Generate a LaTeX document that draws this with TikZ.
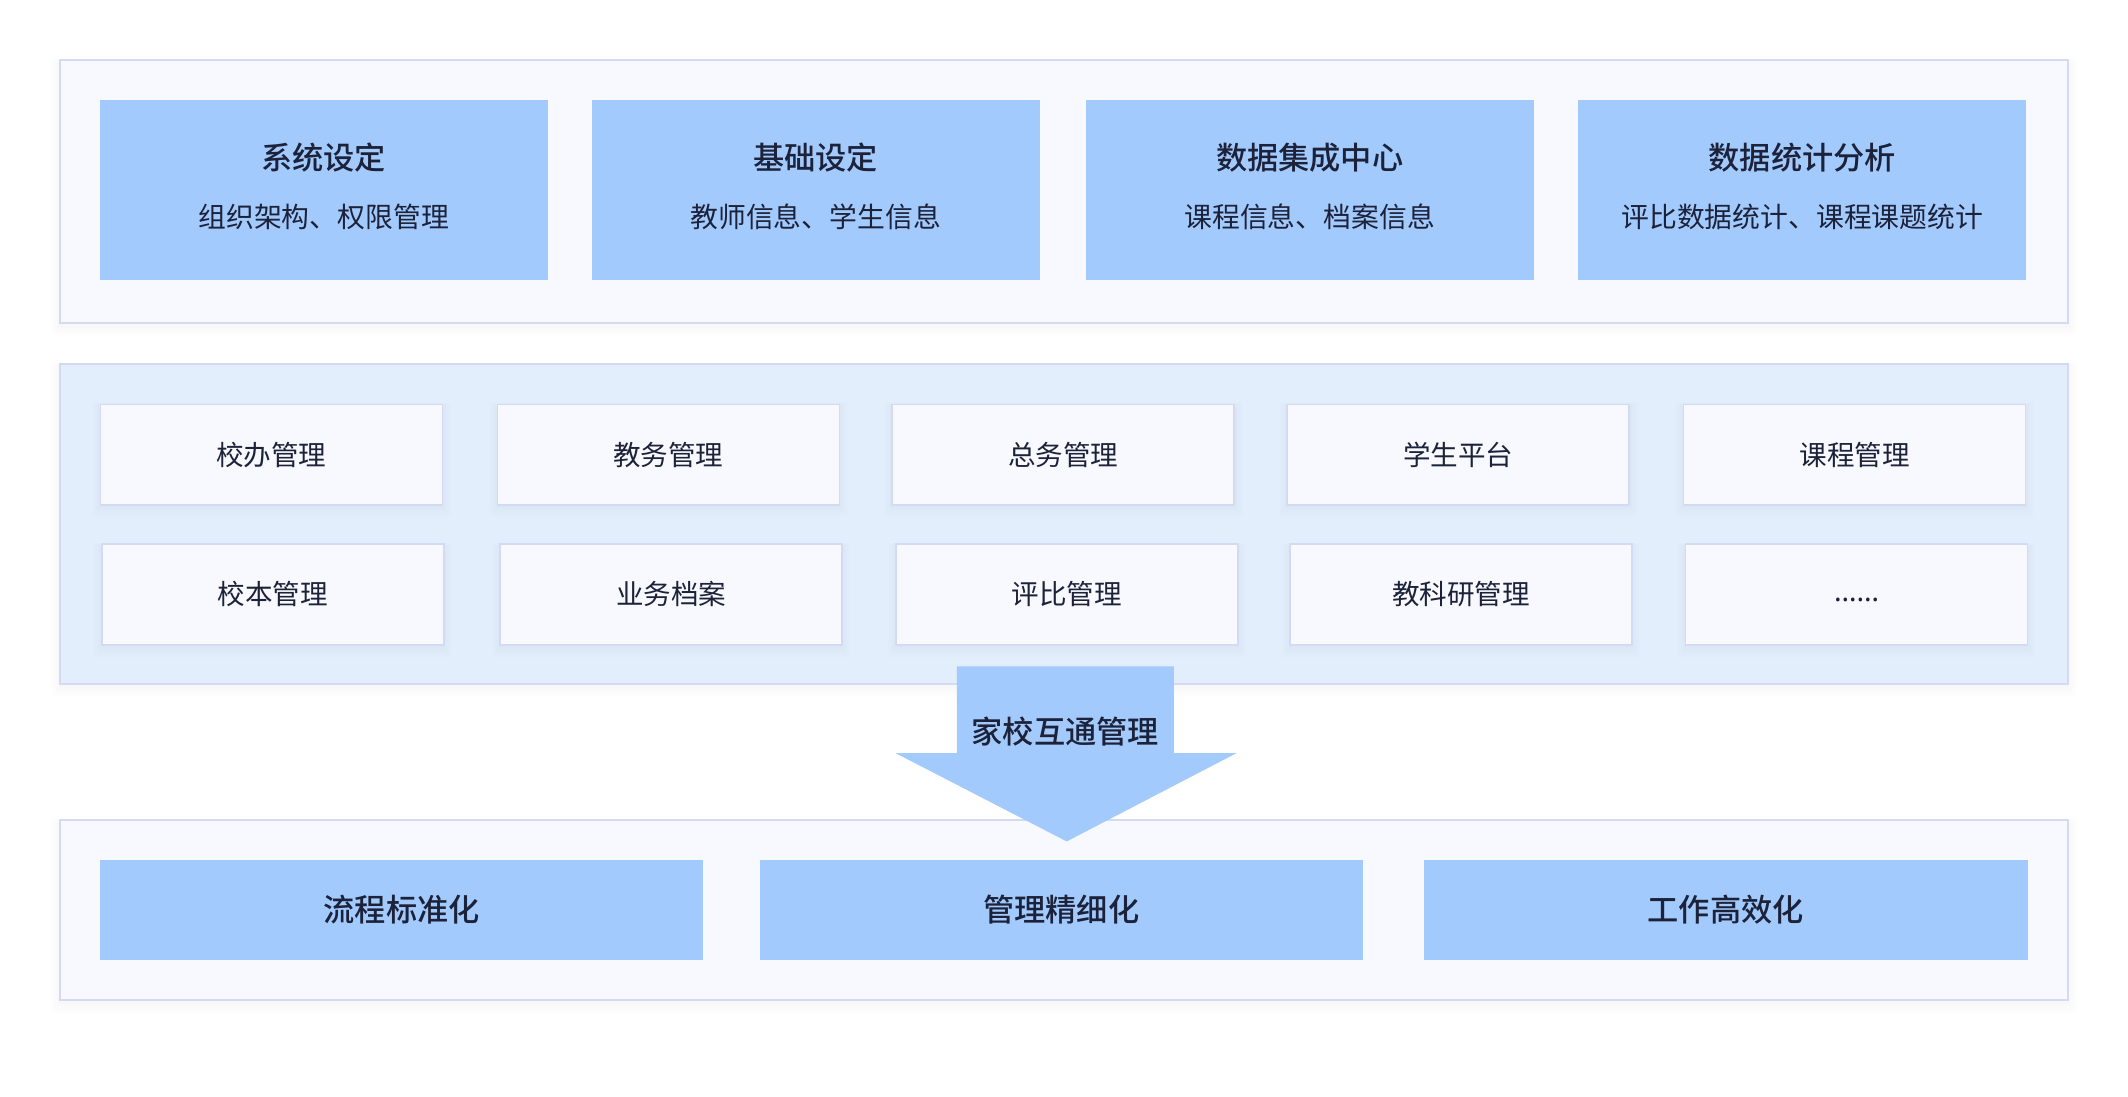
\documentclass[tikz,border=0pt]{standalone}
\usepackage{fontspec}
\setmainfont{Noto Sans CJK SC}[BoldFont={Noto Sans CJK SC Medium}]
\newfontfamily\latinsans{Noto Sans}
\definecolor{panelfill}{HTML}{F7F9FE}
\definecolor{midfill}{HTML}{E3EEFD}
\definecolor{panelline}{HTML}{D4DAF2}
\definecolor{boxblue}{HTML}{A3CAFD}
\definecolor{txt}{HTML}{1C2239}
\definecolor{shadowc}{HTML}{8090C0}
\tikzset{
  panel/.style={draw=panelline, line width=1.4pt, inner sep=0pt, outer sep=0pt},
  bluebox/.style={fill=boxblue, draw=none, inner sep=0pt, outer sep=0pt},
  whitebox/.style={fill=panelfill, draw=panelline, line width=1.3pt, inner sep=0pt, outer sep=0pt,
     minimum width=252pt, minimum height=74pt, text=txt, font=\fontsize{20.3pt}{24pt}\selectfont},
  titletext/.style={text=txt, inner sep=0pt, font=\fontsize{23pt}{27pt}\selectfont\bfseries},
  subtext/.style={text=txt, inner sep=0pt, font=\fontsize{20.5pt}{24pt}\selectfont},
}
\newcommand{\softshadow}[5]{% x1 y1 x2 y2 opacity
  \foreach \s in {1,...,7}{
    \fill[shadowc, opacity=#5] (#1-\s*0.9, #2+2-\s*0.4) rectangle (#3+\s*0.9, #4+2+\s*1.1);
  }
}
\begin{document}
\begin{tikzpicture}[x=1pt,y=-1pt]
\useasboundingbox[fill=white] (0,0) rectangle (1568,807.6);

% ---------- top panel ----------
\softshadow{44}{44}{1524}{238}{0.008}
\node[panel, fill=panelfill, minimum width=1480pt, minimum height=194pt] (toppanel) at (784,141) {};
\foreach \n/\cx/\t/\s in {a/238.5/系统设定/组织架构、权限管理,
                         b/601/基础设定/教师信息、学生信息,
                         c/965/数据集成中心/课程信息、档案信息,
                         d/1328/数据统计分析/评比数据统计、课程课题统计}{
  \node[bluebox, minimum width=330pt, minimum height=132pt] (top\n) at (\cx,140) {};
  \node[titletext] (top\n t) at ([yshift=24pt]top\n.center) {\t};
  \node[subtext] (top\n s) at ([yshift=-20pt]top\n.center) {\s};
}

% ---------- middle panel ----------
\softshadow{44}{268}{1524}{504}{0.008}
\node[panel, fill=midfill, minimum width=1480pt, minimum height=236pt] (midpanel) at (784,386) {};
\foreach \n/\cx/\t in {a/200/校办管理, b/492.5/教务管理, c/783.5/总务管理, d/1074.5/学生平台, e/1366.5/课程管理}{
  \softshadow{\cx-126}{297}{\cx+126}{371}{0.006}
  \node[whitebox] (r1\n) at (\cx,335) {\t};
}
\foreach \n/\cx/\t in {a/201/校本管理, b/494.5/业务档案, c/786/评比管理, d/1076.5/教科研管理}{
  \softshadow{\cx-126}{401}{\cx+126}{475}{0.006}
  \node[whitebox] (r2\n) at (\cx,438) {\t};
}
\softshadow{1242}{401}{1494}{475}{0.006}
\node[whitebox] (r2e) at (1368,438) {};
\node[text=txt, inner sep=0pt, font=\latinsans\fontsize{21pt}{24pt}\selectfont] (dots) at ([yshift=-4pt]r2e.center) {……};

% ---------- bottom panel ----------
\softshadow{44}{604}{1524}{737}{0.008}
\node[panel, fill=panelfill, minimum width=1480pt, minimum height=133pt] (botpanel) at (784,670.5) {};
\node[bluebox, minimum width=444pt, minimum height=73pt, titletext] (ba) at (296,670.5) {流程标准化};
\node[bluebox, minimum width=444pt, minimum height=73pt, titletext] (bb) at (782,670.5) {管理精细化};
\node[bluebox, minimum width=445pt, minimum height=73pt, titletext] (bc) at (1271.5,670.5) {工作高效化};

% ---------- arrow ----------
\fill[boxblue] (705,491) -- (865,491) -- (865,555) -- (911,555) -- (786,620) -- (660,555) -- (705,555) -- cycle;
\node[titletext] (arrowlabel) at (785,539) {家校互通管理};
\end{tikzpicture}
\end{document}
